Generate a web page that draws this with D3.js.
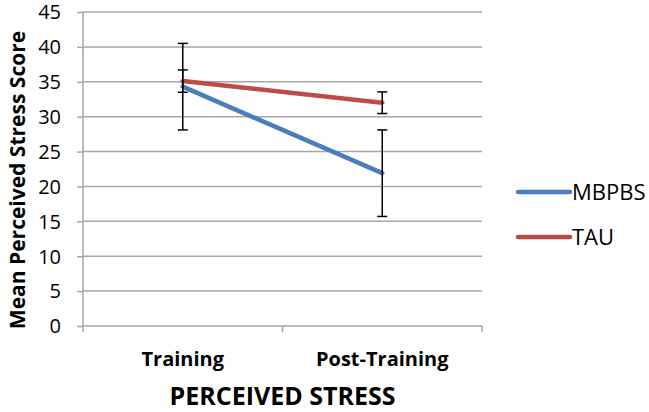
<!DOCTYPE html>
<html>
<head>
<meta charset="utf-8">
<script src="https://cdn.jsdelivr.net/npm/d3@7"></script>
<style>
html,body{margin:0;padding:0;background:#fff;}
svg{display:block;}
text{font-family:"Open Sans",sans-serif;}
</style>
</head>
<body>
<svg id="chart" width="649" height="412"></svg>
<script>
const categories = ["Training", "Post-Training"];
const seriesNames = ["MBPBS", "TAU"];
const mbpbsMeans = [34.3, 21.9];
const mbpbsErrors = [6.2, 6.2];
const tauMeans = [35.1, 32.0];
const tauErrors = [1.6, 1.55];
const yTicks = [0, 5, 10, 15, 20, 25, 30, 35, 40, 45];
const colors = ["#4a7ebb", "#be4b48"];

const series = [
  {name: seriesNames[0], means: mbpbsMeans, errs: mbpbsErrors, color: colors[0]},
  {name: seriesNames[1], means: tauMeans, errs: tauErrors, color: colors[1]}
];

const svg = d3.select("#chart");
const pLeft = 83, pRight = 482, pTop = 12, pBottom = 326;

const x = d3.scaleBand().domain(categories).range([pLeft, pRight]).padding(0);
const y = d3.scaleLinear().domain([0, 45]).range([pBottom, pTop]);
const cx = c => x(c) + x.bandwidth() / 2;

// gridlines
svg.append("g").selectAll("line").data(yTicks.filter(t => t > 0)).join("line")
  .attr("x1", pLeft).attr("x2", pRight)
  .attr("y1", d => y(d)).attr("y2", d => y(d))
  .attr("stroke", "#a6a6a6").attr("stroke-width", 1.5);

// y axis
const yAxis = d3.axisLeft(y).tickValues(yTicks).tickSize(6).tickPadding(16);
const gy = svg.append("g").attr("transform", `translate(${pLeft},0)`).call(yAxis);
gy.select(".domain").attr("stroke", "#a6a6a6").attr("stroke-width", 1.5).attr("d", `M0,${y(0)}V${y(45)}`);
gy.selectAll(".tick line").attr("stroke", "#a6a6a6").attr("stroke-width", 1.5);
gy.selectAll(".tick text").attr("font-size", 20).attr("fill", "#000").attr("font-family", "Open Sans").attr("dy", "0.34em");

// x axis
const xAxis = d3.axisBottom(x).tickSize(0).tickFormat("");
const gx = svg.append("g").attr("transform", `translate(0,${pBottom})`).call(xAxis);
gx.select(".domain").attr("stroke", "#a6a6a6").attr("stroke-width", 1.5).attr("d", `M${pLeft},0H${pRight}`);
gx.selectAll(".tick").remove();
const xBoundaries = [pLeft, x(categories[1]), pRight];
gx.selectAll("line.b").data(xBoundaries).join("line").attr("class","b")
  .attr("x1", d => d).attr("x2", d => d).attr("y1", 0).attr("y2", 6)
  .attr("stroke", "#a6a6a6").attr("stroke-width", 1.5);

// x labels
svg.append("g").selectAll("text").data(categories).join("text")
  .attr("x", d => cx(d)).attr("y", 366)
  .attr("text-anchor", "middle").attr("font-size", 20).attr("font-weight", "bold")
  .attr("fill", "#000").text(d => d);

// lines
const line = d3.line().x((d, i) => cx(categories[i])).y(d => y(d));
svg.append("g").selectAll("path").data(series).join("path")
  .attr("d", s => line(s.means)).attr("fill", "none")
  .attr("stroke", s => s.color).attr("stroke-width", 4.5).attr("stroke-linecap", "round");

// error bars
series.forEach(s => {
  const g = svg.append("g");
  s.means.forEach((m, i) => {
    const px = cx(categories[i]);
    const lo = y(m - s.errs[i]), hi = y(m + s.errs[i]);
    g.append("line").attr("x1", px).attr("x2", px).attr("y1", lo).attr("y2", hi).attr("stroke", "#000").attr("stroke-width", 1.5);
    [lo, hi].forEach(v => g.append("line").attr("x1", px - 5).attr("x2", px + 5).attr("y1", v).attr("y2", v).attr("stroke", "#000").attr("stroke-width", 1.5));
  });
});

// axis titles
svg.append("text").attr("transform", `translate(25,180) rotate(-90)`)
  .attr("text-anchor", "middle").attr("font-size", 21).attr("font-weight", "bold").attr("fill", "#000")
  .text("Mean Perceived Stress Score");
svg.append("text").attr("x", (pLeft + pRight) / 2).attr("y", 405)
  .attr("text-anchor", "middle").attr("font-size", 25).attr("font-weight", "bold").attr("fill", "#000")
  .text("PERCEIVED STRESS");

// legend
const lg = svg.append("g").selectAll("g").data(series).join("g")
  .attr("transform", (d, i) => `translate(518,${192 + i * 45})`);
lg.append("line").attr("x1", 0).attr("x2", 52).attr("y1", 0).attr("y2", 0)
  .attr("stroke", d => d.color).attr("stroke-width", 4.5).attr("stroke-linecap", "round");
lg.append("text").attr("x", 54).attr("y", 0).attr("dy", "0.36em")
  .attr("font-size", 22).attr("fill", "#000").text(d => d.name);
</script>
</body>
</html>
